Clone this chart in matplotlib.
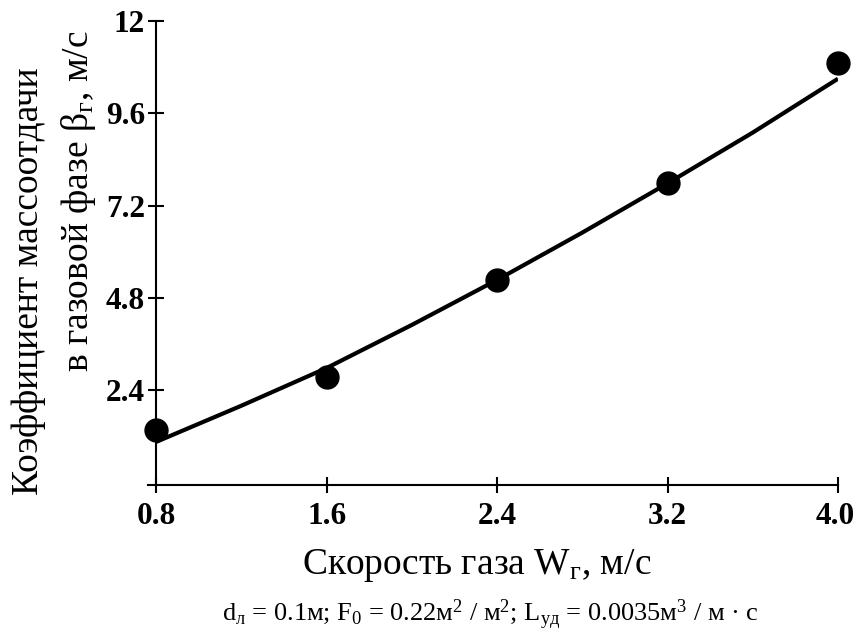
import numpy as np
import matplotlib.pyplot as plt

# experimental points
w_gas = [0.8, 1.6, 2.4, 3.2, 4.0]
beta = [1.37, 2.75, 5.27, 7.78, 10.9]

# smoothed curve
curve_x = [0.8, 1.2, 1.6, 2.0, 2.4, 2.8, 3.2, 3.6, 4.0]
curve_y = [1.06, 2.0, 2.98, 4.1, 5.27, 6.5, 7.78, 9.1, 10.5]

xticks = [0.8, 1.6, 2.4, 3.2, 4.0]
yticks = [2.4, 4.8, 7.2, 9.6, 12]

plt.rcParams['font.family'] = ['Liberation Serif', 'DejaVu Serif']
plt.rcParams['mathtext.fontset'] = 'custom'
plt.rcParams['mathtext.rm'] = 'Liberation Serif'
plt.rcParams['mathtext.it'] = 'Liberation Serif'

fig = plt.figure(figsize=(8.57, 6.31), dpi=100)
ax = fig.add_axes([0.1727, 0.2314, 0.9778 - 0.1727, 0.9667 - 0.2314])

ax.plot(curve_x, curve_y, color='black', lw=3, solid_capstyle='butt', zorder=2)
ax.plot(w_gas, beta, 'o', color='black', ms=16.5, zorder=3, clip_on=False)

ax.set_xlim(0.762, 4.0)
ax.set_ylim(-0.06, 12)
ax.spines['left'].set_position(('data', 0.8))
ax.spines['right'].set_visible(False)
ax.spines['top'].set_visible(False)
for s in ['left', 'bottom']:
    ax.spines[s].set_linewidth(1.5)

ax.set_xticks(xticks)
ax.set_xticklabels(['%.1f' % v for v in xticks])
ax.set_yticks(yticks)
ax.set_yticklabels(['12' if v == 12 else '%.1f' % v for v in yticks])
ax.tick_params(axis='both', direction='inout', length=12, width=1.5, labelsize=22.5)
ax.tick_params(axis='x', pad=6)
ax.tick_params(axis='y', pad=2)
for lbl in ax.get_xticklabels() + ax.get_yticklabels():
    lbl.set_fontweight('bold')
# last x label pulled in slightly so it stays inside the figure
ax.get_xticklabels()[-1].set_horizontalalignment('right')
ax.get_xticklabels()[-1].set_x(4.0)
import matplotlib.transforms as mtransforms
ax.get_xticklabels()[-1].set_transform(ax.get_xticklabels()[-1].get_transform()
                                       + mtransforms.ScaledTranslation(0.17, 0, fig.dpi_scale_trans))

fig.text(0.556, 0.104, r'Скорость газа W$_{\mathrm{г}}$, м/с', ha='center', va='center', fontsize=27)
fig.text(0.034, 1 - 281 / 631, 'Коэффициент массоотдачи', rotation=90, ha='center', va='center', fontsize=27)
fig.text(0.092, 1 - 201 / 631, r'в газовой фазе β$_{\mathrm{г}}$, м/с', rotation=90, ha='center', va='center', fontsize=27)
fig.text(0.572, 0.026,
         r'd$_{\mathrm{л}}$ = 0.1м; F$_{\mathrm{0}}$ = 0.22м$^{\mathrm{2}}$ / м$^{\mathrm{2}}$; '
         r'L$_{\mathrm{уд}}$ = 0.0035м$^{\mathrm{3}}$ / м · с',
         ha='center', va='center', fontsize=19)

fig.savefig('out.png', dpi=100)
